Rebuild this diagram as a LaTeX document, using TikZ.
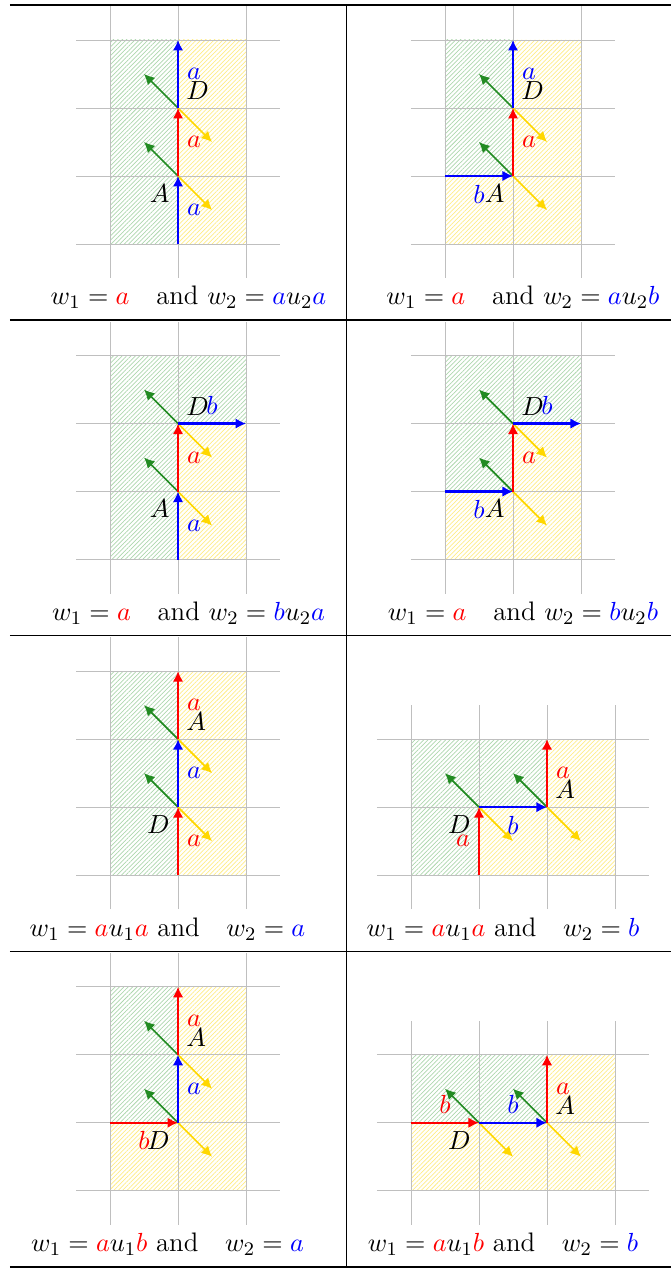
\documentclass[tikz,border=0pt]{standalone}
\usepackage{tikz}
\usetikzlibrary{arrows.meta,patterns.meta}
\definecolor{nrmgreen}{RGB}{34,139,34}
\definecolor{nrmgold}{RGB}{255,215,0}
\tikzset{grd/.style={draw=gray!50, line width=0.4pt},
  mv/.style={line width=0.9pt, -{Latex[length=4.4pt,width=4.4pt]}},
  nv/.style={line width=0.7pt, -{Latex[length=4.4pt,width=4.4pt]}},
  hg/.style={pattern={Lines[angle=45,distance=1.3pt,line width=0.3pt]}, pattern color=green!50!black!32},
  hy/.style={pattern={Lines[angle=45,distance=1.3pt,line width=0.3pt]}, pattern color=nrmgold!48},
  captxt/.style={anchor=base}}
% green and yellow normals at a corner
\newcommand{\normals}[1]{%
  \draw[nv, nrmgreen] (#1) -- ++(-0.5,0.5);
  \draw[nv, nrmgold] (#1) -- ++(0.5,-0.5);}

\begin{document}
\begin{tikzpicture}[font=\fontsize{11.2}{13.8}\selectfont]
  \useasboundingbox (0,0) rectangle (9.868,-18.662);
  % table rules
  \draw[line width=0.8pt] (0.147,-0.068) -- (9.868,-0.068);
  \foreach \y in {-4.706,-9.347,-13.988}{\draw[line width=0.5pt] (0.147,\y) -- (9.868,\y);}
  \draw[line width=0.8pt] (0.147,-18.629) -- (9.868,-18.629);
  \draw[line width=0.4pt] (5.088,-0.068) -- (5.088,-18.629);

  % row 1, left
  \begin{scope}[shift={(1.618,-3.588)}]
    \fill[hg] (0,0) rectangle (1,3);
    \fill[hy] (1,0) rectangle (2,3);
    \draw[grd] (-0.5,-0.5) grid (2.5,3.5);
    \coordinate (s) at (1,0); \coordinate (A) at (1,1);
    \coordinate (D) at (1,2); \coordinate (e) at (1,3);
    \normals{A} \normals{D}
    \draw[mv, blue] (s) -- node[right]{$a$} (A);
    \draw[mv, red] (A) -- node[right]{$a$} (D);
    \draw[mv, blue] (D) -- node[right]{$a$} (e);
    \node[below left] (nA) at (A) {$A$};
    \node[above right] (nD) at (D) {$D$};
    \node[captxt] (c11) at (1.154,-0.897) {$w_1 = \textcolor{red}{a}$\quad and $w_2 = \textcolor{blue}{a}u_2\textcolor{blue}{a}$};
  \end{scope}
  % row 1, right
  \begin{scope}[shift={(6.544,-3.588)}]
    \fill[hg] (0,1) rectangle (1,3);
    \fill[hy] (1,0) rectangle (2,3) (0,0) rectangle (1,1);
    \draw[grd] (-0.5,-0.5) grid (2.5,3.5);
    \coordinate (s) at (0,1); \coordinate (A) at (1,1);
    \coordinate (D) at (1,2); \coordinate (e) at (1,3);
    \normals{A} \normals{D}
    \draw[mv, blue] (s) -- node[below]{$b$} (A);
    \draw[mv, red] (A) -- node[right]{$a$} (D);
    \draw[mv, blue] (D) -- node[right]{$a$} (e);
    \node[below left] (nA) at (A) {$A$};
    \node[above right] (nD) at (D) {$D$};
    \node[captxt] (c12) at (1.146,-0.897) {$w_1 = \textcolor{red}{a}$\quad and $w_2 = \textcolor{blue}{a}u_2\textcolor{blue}{b}$};
  \end{scope}

  % row 2, left
  \begin{scope}[shift={(1.618,-8.229)}]
    \fill[hg] (0,0) rectangle (1,2) (0,2) rectangle (2,3);
    \fill[hy] (1,0) rectangle (2,2);
    \draw[grd] (-0.5,-0.5) grid (2.5,3.5);
    \coordinate (s) at (1,0); \coordinate (A) at (1,1);
    \coordinate (D) at (1,2); \coordinate (e) at (2,2);
    \normals{A} \normals{D}
    \draw[mv, blue] (s) -- node[right]{$a$} (A);
    \draw[mv, red] (A) -- node[right]{$a$} (D);
    \draw[mv, blue] (D) -- node[above]{$b$} (e);
    \node[below left] (nA) at (A) {$A$};
    \node[above right] (nD) at (D) {$D$};
    \node[captxt] (c21) at (1.154,-0.897) {$w_1 = \textcolor{red}{a}$\quad and $w_2 = \textcolor{blue}{b}u_2\textcolor{blue}{a}$};
  \end{scope}
  % row 2, right
  \begin{scope}[shift={(6.544,-8.229)}]
    \fill[hg] (0,1) rectangle (1,2) (0,2) rectangle (2,3);
    \fill[hy] (1,0) rectangle (2,2) (0,0) rectangle (1,1);
    \draw[grd] (-0.5,-0.5) grid (2.5,3.5);
    \coordinate (s) at (0,1); \coordinate (A) at (1,1);
    \coordinate (D) at (1,2); \coordinate (e) at (2,2);
    \normals{A} \normals{D}
    \draw[mv, blue] (s) -- node[below]{$b$} (A);
    \draw[mv, red] (A) -- node[right]{$a$} (D);
    \draw[mv, blue] (D) -- node[above]{$b$} (e);
    \node[below left] (nA) at (A) {$A$};
    \node[above right] (nD) at (D) {$D$};
    \node[captxt] (c22) at (1.146,-0.897) {$w_1 = \textcolor{red}{a}$\quad and $w_2 = \textcolor{blue}{b}u_2\textcolor{blue}{b}$};
  \end{scope}

  % row 3, left
  \begin{scope}[shift={(1.618,-12.870)}]
    \fill[hg] (0,0) rectangle (1,3);
    \fill[hy] (1,0) rectangle (2,3);
    \draw[grd] (-0.5,-0.5) grid (2.5,3.5);
    \coordinate (s) at (1,0); \coordinate (D) at (1,1);
    \coordinate (A) at (1,2); \coordinate (e) at (1,3);
    \normals{D} \normals{A}
    \draw[mv, red] (s) -- node[right]{$a$} (D);
    \draw[mv, blue] (D) -- node[right]{$a$} (A);
    \draw[mv, red] (A) -- node[right]{$a$} (e);
    \node[below left] (nD) at (D) {$D$};
    \node[above right] (nA) at (A) {$A$};
    \node[captxt] (c31) at (0.845,-0.897) {$w_1 = \textcolor{red}{a}u_1\textcolor{red}{a}$ and\quad $w_2 = \textcolor{blue}{a}$};
  \end{scope}
  % row 3, right
  \begin{scope}[shift={(6.044,-12.870)}]
    \fill[hg] (0,1) rectangle (2,2) (0,0) rectangle (1,1);
    \fill[hy] (2,1) rectangle (3,2) (1,0) rectangle (3,1);
    \draw[grd] (-0.5,-0.5) grid (3.5,2.5);
    \coordinate (s) at (1,0); \coordinate (D) at (1,1);
    \coordinate (A) at (2,1); \coordinate (e) at (2,2);
    \normals{D} \normals{A}
    \draw[mv, red] (s) -- node[left]{$a$} (D);
    \draw[mv, blue] (D) -- node[below]{$b$} (A);
    \draw[mv, red] (A) -- node[right]{$a$} (e);
    \node[below left] (nD) at (D) {$D$};
    \node[above right] (nA) at (A) {$A$};
    \node[captxt] (c32) at (1.353,-0.897) {$w_1 = \textcolor{red}{a}u_1\textcolor{red}{a}$ and\quad $w_2 = \textcolor{blue}{b}$};
  \end{scope}

  % row 4, left
  \begin{scope}[shift={(1.618,-17.511)}]
    \fill[hg] (0,1) rectangle (1,3);
    \fill[hy] (1,0) rectangle (2,3) (0,0) rectangle (1,1);
    \draw[grd] (-0.5,-0.5) grid (2.5,3.5);
    \coordinate (s) at (0,1); \coordinate (D) at (1,1);
    \coordinate (A) at (1,2); \coordinate (e) at (1,3);
    \normals{D} \normals{A}
    \draw[mv, red] (s) -- node[below]{$b$} (D);
    \draw[mv, blue] (D) -- node[right]{$a$} (A);
    \draw[mv, red] (A) -- node[right]{$a$} (e);
    \node[below left] (nD) at (D) {$D$};
    \node[above right] (nA) at (A) {$A$};
    \node[captxt] (c41) at (0.845,-0.897) {$w_1 = \textcolor{red}{a}u_1\textcolor{red}{b}$ and\quad $w_2 = \textcolor{blue}{a}$};
  \end{scope}
  % row 4, right
  \begin{scope}[shift={(6.044,-17.511)}]
    \fill[hg] (0,1) rectangle (2,2);
    \fill[hy] (2,1) rectangle (3,2) (0,0) rectangle (3,1);
    \draw[grd] (-0.5,-0.5) grid (3.5,2.5);
    \coordinate (s) at (0,1); \coordinate (D) at (1,1);
    \coordinate (A) at (2,1); \coordinate (e) at (2,2);
    \normals{D} \normals{A}
    \draw[mv, red] (s) -- node[above]{$b$} (D);
    \draw[mv, blue] (D) -- node[above]{$b$} (A);
    \draw[mv, red] (A) -- node[right]{$a$} (e);
    \node[below left] (nD) at (D) {$D$};
    \node[above right] (nA) at (A) {$A$};
    \node[captxt] (c42) at (1.353,-0.897) {$w_1 = \textcolor{red}{a}u_1\textcolor{red}{b}$ and\quad $w_2 = \textcolor{blue}{b}$};
  \end{scope}
\end{tikzpicture}
\end{document}
